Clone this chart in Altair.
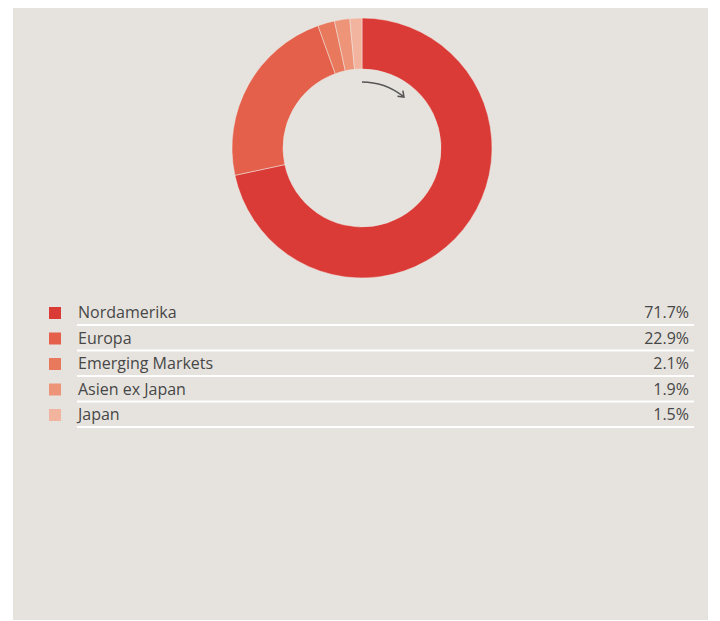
import math
import altair as alt
import pandas as pd

# ---- data ----
regions = ["Nordamerika", "Europa", "Emerging Markets", "Asien ex Japan", "Japan"]
shares = [71.7, 22.9, 2.1, 1.9, 1.5]
colors = ["#db3b36", "#e4604a", "#e8795c", "#ee9579", "#f2b39f"]

BG = "#e6e3de"
TEXT = "#474747"

df = pd.DataFrame({"label": regions, "value": shares, "idx": list(range(len(regions)))})

W, H = 695, 612
CX, CY = 349, 140  # donut centre in view pixels

color_scale = alt.Scale(domain=regions, range=colors)
y_scale = alt.Scale(domain=[0, 4], range=[305, 407], nice=False, zero=False)

base = alt.Chart(df)

donut = base.mark_arc(radius=130, radius2=79, stroke="#efe9e4", strokeWidth=0.5).encode(
    theta=alt.Theta("value:Q", stack=True),
    order=alt.Order("idx:Q"),
    color=alt.Color("label:N", scale=color_scale, legend=None),
    x=alt.value(CX),
    y=alt.value(CY),
)

# curved arrow inside the hole
arrow_end_deg = 39.5
arrow_df = pd.DataFrame({"a": [0]})
arrow_arc = alt.Chart(arrow_df).mark_arc(
    theta=0.0, theta2=math.radians(arrow_end_deg) - 0.02, radius=66.8, radius2=65.3, color="#555555"
).encode(x=alt.value(CX), y=alt.value(CY))

ax = CX + 66 * math.sin(math.radians(arrow_end_deg))
ay = CY - 66 * math.cos(math.radians(arrow_end_deg))
arrow_head = alt.Chart(arrow_df).mark_point(
    shape="M-1,-0.75L0,0L-1,0.75", size=110, filled=False, stroke="#555555",
    strokeWidth=1.5, angle=arrow_end_deg + 4, opacity=1,
).encode(x=alt.value(ax), y=alt.value(ay))

squares = base.mark_square(size=144, opacity=1).encode(
    x=alt.value(42),
    y=alt.Y("idx:Q", scale=y_scale, axis=None),
    color=alt.Color("label:N", scale=color_scale, legend=None),
)

labels = base.mark_text(align="left", baseline="middle", font="Open Sans", fontSize=16, color=TEXT).encode(
    x=alt.value(65),
    y=alt.Y("idx:Q", scale=y_scale, axis=None),
    text="label:N",
)

values = base.transform_calculate(
    txt="format(datum.value, '.1f') + '%'"
).mark_text(align="right", baseline="middle", font="Open Sans", fontSize=16, color=TEXT).encode(
    x=alt.value(676),
    y=alt.Y("idx:Q", scale=y_scale, axis=None),
    text="txt:N",
)

lines = base.transform_calculate(ly="datum.idx + 0.47").mark_rule(color="white", strokeWidth=2).encode(
    x=alt.value(64),
    x2=alt.value(681),
    y=alt.Y("ly:Q", scale=y_scale, axis=None),
)

chart = alt.layer(donut, arrow_arc, arrow_head, lines, squares, labels, values).properties(
    width=W,
    height=H,
    background="white",
    padding={"left": 5, "top": 0, "right": 0, "bottom": 0},
    autosize=alt.AutoSizeParams(type="none"),
).configure_view(fill=BG, stroke=None)

chart.save("out.html", embed_options={"renderer": "svg", "actions": False})
